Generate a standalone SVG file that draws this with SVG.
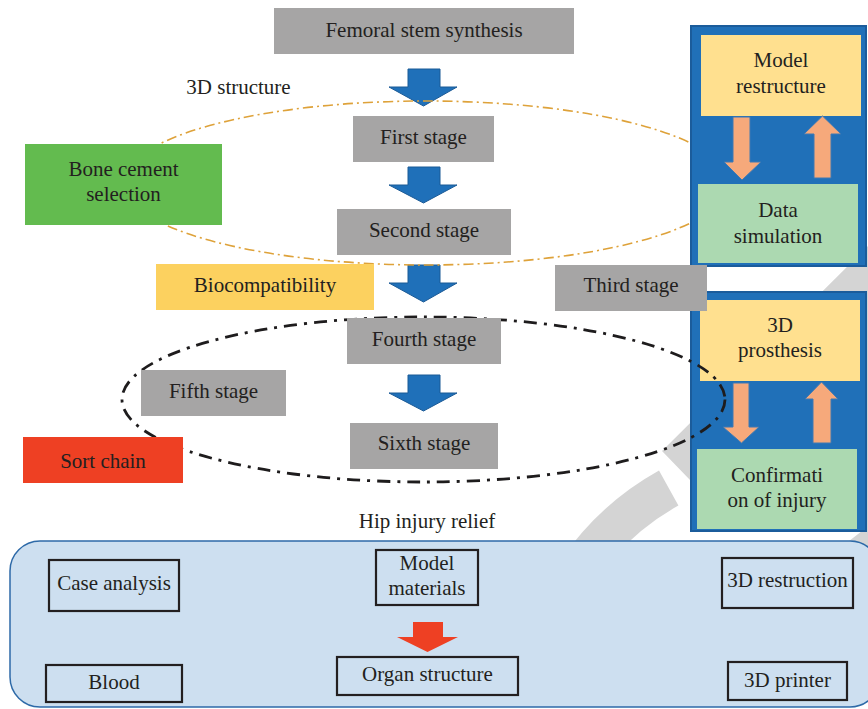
<svg xmlns="http://www.w3.org/2000/svg" width="868" height="709" viewBox="0 0 868 709">
<style>
text{font-family:"Liberation Serif","Times New Roman",serif;font-size:21px;fill:#231f20;text-anchor:middle}
.stage{fill:#a6a5a5}
.bluebox{fill:#2070b8;stroke:#1b5c9b;stroke-width:2}
.blue-arrow{fill:#1f70b9;stroke:#1b5a96;stroke-width:1}
.or-arrow{fill:#f6a97b;stroke:#3f79b3;stroke-width:1}
.white-box{fill:none;stroke:#231f20;stroke-width:2.2}
.bg{fill:#d4d4d4}
</style>
<rect width="868" height="709" fill="#ffffff"/>
<g id="background-arrows">
<path class="bg" d="M560.8,560 A290,290 0 0 1 659,470.5 L678.4,505.5 A250,250 0 0 0 611.3,560 Z"/>
<polygon class="bg" points="662,451 868,246 868,548 840,548 862,531 700,490 690,480"/>
</g>
<g id="panel">
<rect x="10" y="541" width="870" height="166" rx="30" ry="30" fill="#cddff0" stroke="#2e6aa8" stroke-width="1.5"/>
</g>
<g id="connectors">
<path class="blue-arrow" d="M408,69 L440,69 L440,87 L457,87 L423.5,106 L389,87 L408,87 Z"/>
<path class="blue-arrow" d="M408,167 L440,167 L440,185 L457,185 L423.5,203 L389,185 L408,185 Z"/>
<path class="blue-arrow" d="M408,265 L440,265 L440,283 L457,283 L423.5,302 L389,283 L408,283 Z"/>
<path class="blue-arrow" d="M408,375 L440,375 L440,393 L457,393 L423.5,411 L389,393 L408,393 Z"/>
<path d="M413,622 L443,622 L443,637 L458,637 L427.5,652 L397,637 L413,637 Z" fill="#ee4023"/>
</g>
<g id="orange-ellipse">
<ellipse cx="426" cy="183" rx="303" ry="82" fill="none" stroke="#dea23a" stroke-width="1.6" stroke-dasharray="10 4 2 4"/>
</g>
<g id="model-group">
<rect class="bluebox" x="691" y="26" width="175" height="240"/>
<g id="model-restructure">
<rect x="701" y="35" width="160" height="81" fill="#ffe08f"/>
<text x="781" y="67">Model</text>
<text x="781" y="93">restructure</text>
</g>
<g id="data-simulation">
<rect x="698" y="184" width="160" height="79" fill="#acd9b1"/>
<text x="778" y="217">Data</text>
<text x="778" y="243">simulation</text>
</g>
<path class="or-arrow" d="M733,117 L750,117 L750,162 L761,162 L742,180 L724,162 L733,162 Z"/>
<path class="or-arrow" d="M814,178 L831,178 L831,134 L841,134 L822.5,116 L804,134 L814,134 Z"/>
</g>
<g id="prosthesis-group">
<rect class="bluebox" x="691" y="292" width="175" height="239"/>
<g id="prosthesis">
<rect x="700" y="300" width="160" height="81" fill="#ffe08f"/>
<text x="780" y="332">3D</text>
<text x="780" y="357">prosthesis</text>
</g>
<g id="confirmation">
<rect x="697" y="449" width="160" height="80" fill="#acd9b1"/>
<text x="777" y="482">Confirmati</text>
<text x="777" y="507">on of injury</text>
</g>
<path class="or-arrow" d="M733,383 L749,383 L749,427 L759,427 L741.5,443 L723,427 L733,427 Z"/>
<path class="or-arrow" d="M813,443 L831,443 L831,399 L838,399 L821.5,382 L805,399 L813,399 Z"/>
</g>
<g id="black-ellipse">
<ellipse cx="423.5" cy="399.5" rx="301.5" ry="82.5" fill="none" stroke="#1e1c1d" stroke-width="2.8" stroke-dasharray="13 7 3 7"/>
</g>
<g id="femoral"><rect class="stage" x="274" y="8" width="300" height="46"/><text x="424" y="37">Femoral stem synthesis</text></g>
<g id="structure-label"><text x="238.5" y="94">3D structure</text></g>
<g id="first-stage"><rect class="stage" x="353" y="116" width="141" height="46"/><text x="423.5" y="144">First stage</text></g>
<g id="second-stage"><rect class="stage" x="337" y="209" width="174" height="46"/><text x="424" y="237">Second stage</text></g>
<g id="bone-cement"><rect x="25" y="144" width="197" height="81" fill="#63bb4f"/><text x="123.5" y="176">Bone cement</text><text x="123.5" y="201">selection</text></g>
<g id="biocompatibility"><rect x="156" y="264" width="218" height="46" fill="#fcd15f"/><text x="265" y="292">Biocompatibility</text></g>
<g id="third-stage"><rect class="stage" x="555" y="265" width="152" height="46"/><text x="631" y="292">Third stage</text></g>
<g id="fourth-stage"><rect class="stage" x="347" y="318" width="154" height="46"/><text x="424" y="346">Fourth stage</text></g>
<g id="fifth-stage"><rect class="stage" x="141" y="370" width="145" height="46"/><text x="213.5" y="398">Fifth stage</text></g>
<g id="sixth-stage"><rect class="stage" x="350" y="423" width="148" height="46"/><text x="424" y="450">Sixth stage</text></g>
<g id="sort-chain"><rect x="23" y="437" width="160" height="46" fill="#ee4023"/><text x="103" y="468">Sort chain</text></g>
<g id="hip-label"><text x="427" y="528">Hip injury relief</text></g>
<g id="case-analysis"><rect class="white-box" x="49" y="560" width="130" height="51"/><text x="114" y="590">Case analysis</text></g>
<g id="blood"><rect class="white-box" x="46" y="665" width="136" height="37"/><text x="114" y="689">Blood</text></g>
<g id="model-materials"><rect class="white-box" x="376" y="550" width="102" height="55"/><text x="427" y="570">Model</text><text x="427" y="595">materials</text></g>
<g id="organ-structure"><rect class="white-box" x="337" y="657" width="181" height="38"/><text x="427.5" y="681">Organ structure</text></g>
<g id="restruction"><rect class="white-box" x="722" y="558" width="131" height="50"/><text x="787.5" y="587">3D restruction</text></g>
<g id="printer"><rect class="white-box" x="728" y="662" width="119" height="38"/><text x="787.5" y="687">3D printer</text></g>
</svg>
